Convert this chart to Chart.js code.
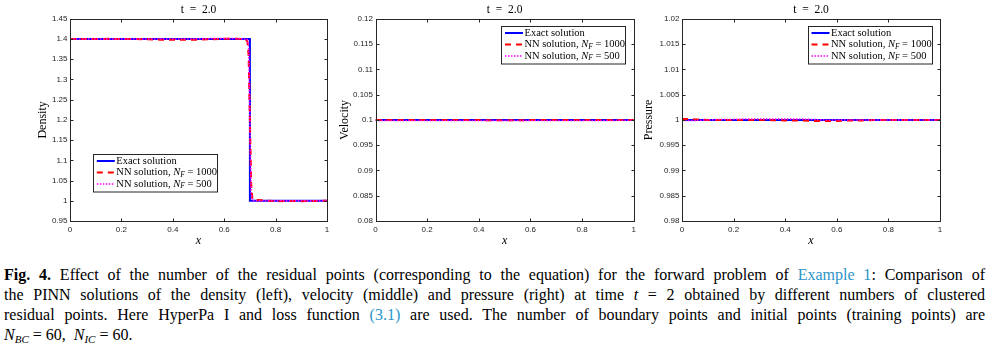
<!DOCTYPE html>
<html>
<head>
<meta charset="utf-8">
<script src="https://cdn.jsdelivr.net/npm/chart.js@4.4.1/dist/chart.umd.min.js"></script>
<style>
  body { margin: 0; background: #fff; width: 987px; height: 353px; position: relative; overflow: hidden; }
  canvas { position: absolute; top: 0; }
  #caption { position: absolute; left: 4px; top: 265px; width: 981px; font: 16px "Liberation Serif", "Times New Roman", serif; line-height: 20px; color: #000; }
  #caption div { white-space: nowrap; text-align: justify; text-align-last: justify; }
  #caption div.last { text-align-last: left; }
  .ref { color: #2b95c8; }
  sub { font-size: 11px; line-height: 0; vertical-align: -3px; }
</style>
</head>
<body>
<canvas id="density" width="340" height="250" style="left:0"></canvas>
<canvas id="velocity" width="308" height="250" style="left:332px"></canvas>
<canvas id="pressure" width="347" height="250" style="left:640px"></canvas>

<div id="caption">
  <div><b>Fig. 4.</b> Effect of the number of the residual points (corresponding to the equation) for the forward problem of <span class="ref">Example 1</span>: Comparison of</div>
  <div>the PINN solutions of the density (left), velocity (middle) and pressure (right) at time <i>t</i> = 2 obtained by different numbers of clustered</div>
  <div>residual points. Here HyperPa I and loss function <span class="ref">(3.1)</span> are used. The number of boundary points and initial points (training points) are</div>
  <div class="last"><i>N</i><sub><i>BC</i></sub> = 60,&nbsp; <i>N</i><sub><i>IC</i></sub> = 60.</div>
</div>

<script>
// axis ticks
const xTicks = [0, 0.2, 0.4, 0.6, 0.8, 1];
const xTickLabels = ['0', '0.2', '0.4', '0.6', '0.8', '1'];

const densityTicks = [0.95, 1, 1.05, 1.1, 1.15, 1.2, 1.25, 1.3, 1.35, 1.4, 1.45];
const densityTickLabels = ['0.95', '1', '1.05', '1.1', '1.15', '1.2', '1.25', '1.3', '1.35', '1.4', '1.45'];
const velocityTicks = [0.08, 0.085, 0.09, 0.095, 0.1, 0.105, 0.11, 0.115, 0.12];
const velocityTickLabels = ['0.08', '0.085', '0.09', '0.095', '0.1', '0.105', '0.11', '0.115', '0.12'];
const pressureTicks = [0.98, 0.985, 0.99, 0.995, 1, 1.005, 1.01, 1.015, 1.02];
const pressureTickLabels = ['0.98', '0.985', '0.99', '0.995', '1', '1.005', '1.01', '1.015', '1.02'];

const seriesLabels = ['Exact solution', 'NN solution, N_F = 1000', 'NN solution, N_F = 500'];

// density (left panel)
const exactDensityX = [0, 0.7, 0.7, 1];
const exactDensity = [1.4, 1.4, 1.0, 1.0];
const nnDensityX = [0, 0.05, 0.1, 0.15, 0.2, 0.25, 0.3, 0.35, 0.4, 0.45, 0.5, 0.55, 0.6, 0.65, 0.68, 0.69, 0.695, 0.7, 0.705, 0.71, 0.72, 0.75, 0.8, 0.85, 0.9, 0.95, 1];
const nnDensity1000 = [1.4, 1.4, 1.4, 1.4005, 1.4, 1.3998, 1.3995, 1.3985, 1.3985, 1.398, 1.3985, 1.3995, 1.4005, 1.4005, 1.4, 1.395, 1.36, 1.2, 1.04, 1.003, 1.002, 1.001, 0.999, 0.9995, 0.999, 0.9995, 1.0];
const nnDensity500 = [1.4, 1.4, 1.4, 1.4, 1.4, 1.4, 1.4, 1.4, 1.4, 1.4, 1.4005, 1.401, 1.4015, 1.401, 1.4, 1.399, 1.38, 1.2, 1.02, 1.001, 1.0, 1.0, 1.0, 1.0, 1.0, 1.0, 1.0];

// velocity and pressure (middle, right)
const flatX = [0, 1];
const nnX = [0, 0.05, 0.1, 0.15, 0.2, 0.25, 0.3, 0.35, 0.4, 0.45, 0.5, 0.55, 0.6, 0.65, 0.7, 0.75, 0.8, 0.85, 0.9, 0.95, 1];
const exactVelocity = [0.1, 0.1];
const nnVelocity1000 = [0.1, 0.1, 0.1, 0.1, 0.1, 0.1, 0.1, 0.09998, 0.09996, 0.09995, 0.09995, 0.09995, 0.09996, 0.09997, 0.09998, 0.1, 0.1, 0.1, 0.1, 0.1, 0.1];
const nnVelocity500 = [0.09988, 0.09988, 0.09989, 0.0999, 0.0999, 0.09989, 0.09988, 0.09987, 0.09986, 0.09986, 0.09986, 0.09986, 0.09987, 0.09988, 0.09988, 0.09989, 0.0999, 0.0999, 0.0999, 0.09991, 0.09991];
const exactPressure = [1, 1];
const nnPressure1000 = [1.0002, 1.0001, 1.0, 1.0, 1.0, 1.0, 1.0, 0.99995, 0.9999, 0.9999, 0.9998, 0.9998, 0.9998, 0.9999, 0.9999, 1.0, 1.0, 1.0, 1.0, 1.0, 1.0];
const nnPressure500 = [0.9999, 0.9999, 1.0, 1.0001, 1.0001, 1.0002, 1.0002, 1.0002, 1.0002, 1.0002, 1.0001, 1.0, 1.0, 1.0, 1.0, 1.0, 1.0, 1.0, 1.0, 1.0, 1.0];

const styles = [
  { borderColor: '#0000ff', borderWidth: 2, borderDash: [], order: 3 },
  { borderColor: '#ff0000', borderWidth: 2, borderDash: [6, 5], order: 2 },
  { borderColor: '#ff00ff', borderWidth: 1.5, borderDash: [1.5, 1.5], order: 1 },
];

const axisColor = '#262626';

function pts(xs, ys) {
  return xs.map((x, i) => ({ x, y: ys[i] }));
}

function drawLabel(ctx, text, x, y) {
  const base = '10.5px "Liberation Serif"';
  ctx.fillStyle = '#000';
  ctx.textBaseline = 'middle';
  ctx.textAlign = 'left';
  ctx.font = base;
  const m = text.match(/^(.*)N_F(.*)$/);
  if (!m) { ctx.fillText(text, x, y); return; }
  ctx.fillText(m[1], x, y);
  x += ctx.measureText(m[1]).width;
  ctx.font = 'italic ' + base;
  ctx.fillText('N', x, y);
  x += ctx.measureText('N').width;
  ctx.font = 'italic 7.5px "Liberation Serif"';
  ctx.fillText('F', x, y + 2.5);
  x += ctx.measureText('F').width;
  ctx.font = base;
  ctx.fillText(m[2], x, y);
}

// box around the plot with inward ticks on all four sides
const matlabAxes = {
  id: 'matlabAxes',
  afterDatasetsDraw(chart) {
    const { ctx, chartArea: a, scales } = chart;
    const len = 3;
    const L = Math.round(a.left) + 0.5, R = Math.round(a.right) + 0.5;
    const T = Math.round(a.top) + 0.5, B = Math.round(a.bottom) + 0.5;
    ctx.save();
    ctx.strokeStyle = axisColor;
    ctx.lineWidth = 1;
    ctx.setLineDash([]);
    ctx.beginPath();
    for (const t of scales.x.ticks) {
      const px = Math.round(scales.x.getPixelForValue(t.value)) + 0.5;
      ctx.moveTo(px, B); ctx.lineTo(px, B - len);
      ctx.moveTo(px, T); ctx.lineTo(px, T + len);
    }
    for (const t of scales.y.ticks) {
      const py = Math.round(scales.y.getPixelForValue(t.value)) + 0.5;
      ctx.moveTo(L, py); ctx.lineTo(L + len, py);
      ctx.moveTo(R, py); ctx.lineTo(R - len, py);
    }
    ctx.stroke();
    ctx.strokeRect(L, T, R - L, B - T);
    ctx.restore();
  }
};

const boxLegend = {
  id: 'boxLegend',
  afterDatasetsDraw(chart, args, opts) {
    const { ctx, chartArea: a } = chart;
    const w = 124, h = 37.5;
    const left = opts.right != null ? a.right - opts.right - w : a.left + opts.left;
    const top = a.top + opts.top;
    ctx.save();
    ctx.fillStyle = '#fff';
    ctx.fillRect(left, top, w, h);
    ctx.strokeStyle = axisColor;
    ctx.lineWidth = 1;
    ctx.setLineDash([]);
    ctx.strokeRect(Math.round(left) + 0.5, Math.round(top) + 0.5, w, h);
    chart.data.datasets.forEach((ds, i) => {
      const y = top + 6.7 + i * 11.5;
      ctx.strokeStyle = ds.borderColor;
      ctx.lineWidth = ds.borderWidth;
      ctx.setLineDash(ds.borderDash);
      ctx.beginPath();
      ctx.moveTo(left + 3.5, y);
      ctx.lineTo(left + 21.5, y);
      ctx.stroke();
      drawLabel(ctx, ds.label, left + 23, y);
    });
    ctx.restore();
  }
};

Chart.defaults.font.family = '"Liberation Sans", Arial, sans-serif';
Chart.defaults.color = axisColor;

function makeChart(id, p) {
  const datasets = p.series.map((s, i) => ({
    label: seriesLabels[i],
    data: pts(s[0], s[1]),
    borderColor: styles[i].borderColor,
    borderWidth: styles[i].borderWidth,
    borderDash: styles[i].borderDash,
    order: styles[i].order,
    pointRadius: 0,
    tension: 0,
    fill: false,
  }));

  new Chart(document.getElementById(id), {
    type: 'line',
    data: { datasets },
    plugins: [matlabAxes, boxLegend],
    options: {
      responsive: false,
      devicePixelRatio: 1,
      animation: false,
      events: [],
      layout: { padding: { left: p.padLeft, right: p.padRight, top: 0, bottom: 0 } },
      plugins: {
        legend: { display: false },
        tooltip: { enabled: false },
        title: {
          display: true,
          fullSize: false,
          text: 't\u2002=\u20022.0',
          color: '#000',
          font: { family: '"Liberation Serif"', size: 11.5, weight: 'normal' },
          padding: { top: 3, bottom: 2 }
        },
        boxLegend: p.legend
      },
      scales: {
        x: {
          type: 'linear',
          min: 0,
          max: 1,
          afterBuildTicks: s => { s.ticks = xTicks.map(v => ({ value: v })); },
          afterFit: s => { s.height = 29; },
          grid: { display: false, drawTicks: false },
          border: { display: false },
          ticks: {
            padding: 4,
            font: { size: 8 },
            callback: (v, i) => xTickLabels[i]
          },
          title: {
            display: true,
            text: 'x',
            color: '#000',
            font: { family: '"Liberation Serif"', size: 12, style: 'italic' },
            padding: { top: 0, bottom: 2 }
          }
        },
        y: {
          type: 'linear',
          min: p.yTicks[0],
          max: p.yTicks[p.yTicks.length - 1],
          afterBuildTicks: s => { s.ticks = p.yTicks.map(v => ({ value: v })); },
          afterFit: s => { s.width = p.yWidth; },
          grid: { display: false, drawTicks: false },
          border: { display: false },
          ticks: {
            padding: 2.5,
            font: { size: 8 },
            callback: (v, i) => p.yTickLabels[i]
          },
          title: {
            display: true,
            text: p.yTitle,
            color: '#000',
            font: { family: '"Liberation Serif"', size: 12 },
            padding: 0
          }
        }
      }
    }
  });
}

makeChart('density', {
  series: [[exactDensityX, exactDensity], [nnDensityX, nnDensity1000], [nnDensityX, nnDensity500]],
  yTicks: densityTicks, yTickLabels: densityTickLabels, yTitle: 'Density',
  padLeft: 35.3, yWidth: 34.7, padRight: 13,
  legend: { left: 23.3, top: 135.5 }
});

makeChart('velocity', {
  series: [[flatX, exactVelocity], [nnX, nnVelocity1000], [nnX, nnVelocity500]],
  yTicks: velocityTicks, yTickLabels: velocityTickLabels, yTitle: 'Velocity',
  padLeft: 5.3, yWidth: 38.2, padRight: 6,
  legend: { right: 8.3, top: 7.5 }
});

makeChart('pressure', {
  series: [[flatX, exactPressure], [nnX, nnPressure1000], [nnX, nnPressure500]],
  yTicks: pressureTicks, yTickLabels: pressureTickLabels, yTitle: 'Pressure',
  padLeft: 1.3, yWidth: 40.7, padRight: 47,
  legend: { right: 8, top: 7.5 }
});
</script>
</body>
</html>
